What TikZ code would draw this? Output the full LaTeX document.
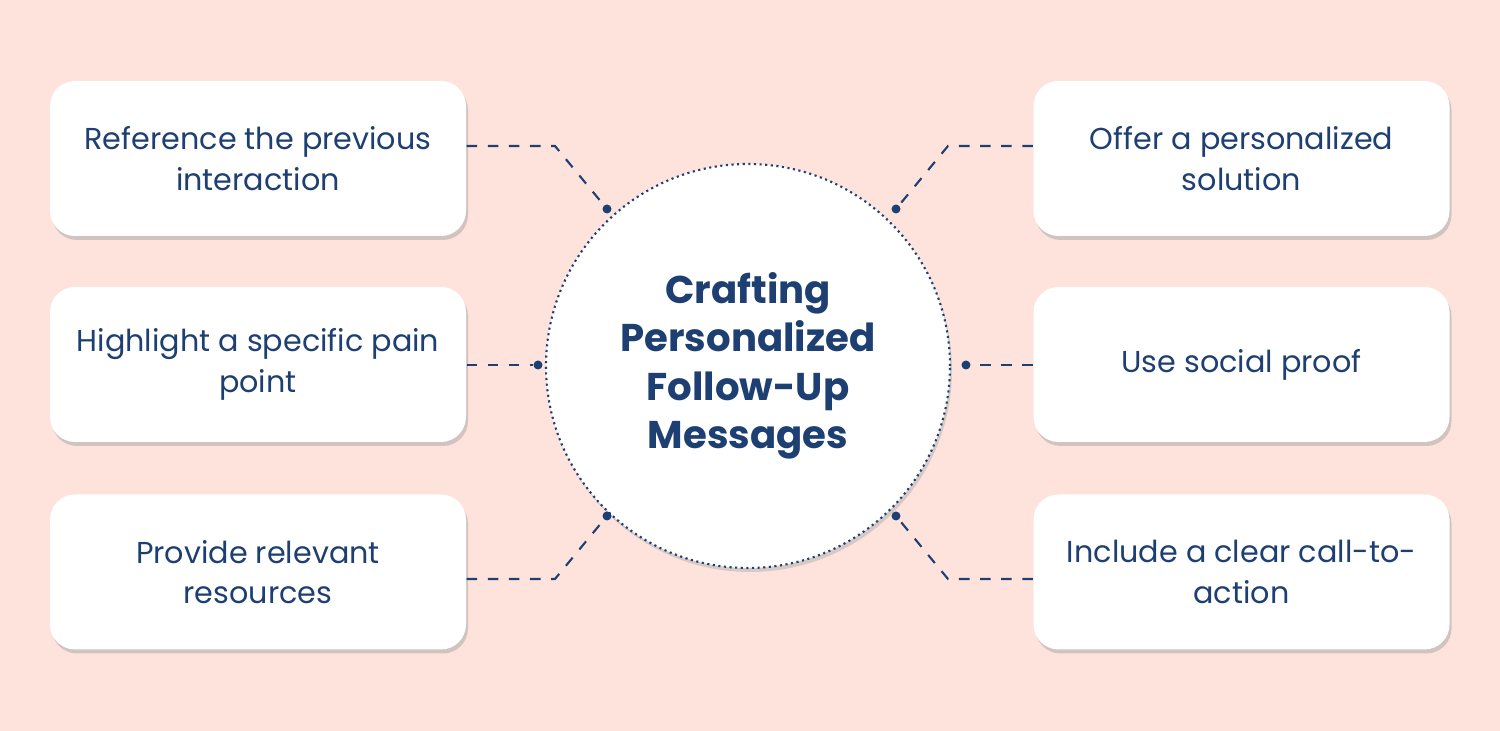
\documentclass[tikz,border=0pt]{standalone}
\usepackage{fontspec}
\setmainfont{Poppins}
\usetikzlibrary{positioning,shadows}
\definecolor{bgpink}{HTML}{FDE3DC}
\definecolor{navy}{HTML}{1E3F72}
\tikzset{
  tipbox/.style={draw=none,fill=white,rounded corners=0.25cm,minimum width=4.16cm,minimum height=1.55cm,
    align=center,text=navy,font=\fontsize{8.6}{11.5}\selectfont,
    drop shadow={shadow xshift=0.02cm,shadow yshift=-0.04cm,fill=black!35,opacity=0.5}},
  link/.style={navy,dashed,dash pattern=on 3pt off 3pt,line width=0.6pt},
  pin/.style={circle,fill=navy,inner sep=0pt,minimum size=0.09cm}
}
\begin{document}
\begin{tikzpicture}
\fill[bgpink] (0,0) rectangle (15,7.31);
\useasboundingbox (0,0) rectangle (15,7.31);
% centre
\node[circle,fill=white,draw=navy,densely dotted,line width=0.6pt,minimum size=4.04cm,
  drop shadow={shadow xshift=0.02cm,shadow yshift=-0.04cm,fill=black!30,opacity=0.5},
  align=center,text=navy,font=\fontsize{11}{13.8}\selectfont\bfseries] (hub) at (7.48,3.65)
  {Crafting\\Personalized\\Follow-Up\\Messages};
% boxes
\node[tipbox] (ref) at (2.58,5.725) {Reference the previous\\interaction};
\node[tipbox] (pain) at (2.58,3.665) {Highlight a specific pain\\point};
\node[tipbox] (res) at (2.58,1.59) {Provide relevant\\resources};
\node[tipbox] (offer) at (12.415,5.725) {Offer a personalized\\solution};
\node[tipbox] (proof) at (12.415,3.665) {Use social proof};
\node[tipbox] (cta) at (12.415,1.59) {Include a clear call-to-\\action};
% pins
\node[pin] (p1) at (6.07,5.22) {};
\node[pin] (p2) at (5.38,3.66) {};
\node[pin] (p3) at (6.07,2.15) {};
\node[pin] (p4) at (8.96,5.22) {};
\node[pin] (p5) at (9.66,3.66) {};
\node[pin] (p6) at (8.96,2.15) {};
\coordinate (k1) at (5.55,5.85);
\coordinate (k3) at (5.55,1.52);
\coordinate (k4) at (9.48,5.85);
\coordinate (k6) at (9.48,1.52);
% links
\draw[link] (ref.east |- k1) -- (k1) -- (p1);
\draw[link] (pain.east |- p2) -- (p2);
\draw[link] (res.east |- k3) -- (k3) -- (p3);
\draw[link] (offer.west |- k4) -- (k4) -- (p4);
\draw[link] (proof.west |- p5) -- (p5);
\draw[link] (cta.west |- k6) -- (k6) -- (p6);
\end{tikzpicture}
\end{document}
